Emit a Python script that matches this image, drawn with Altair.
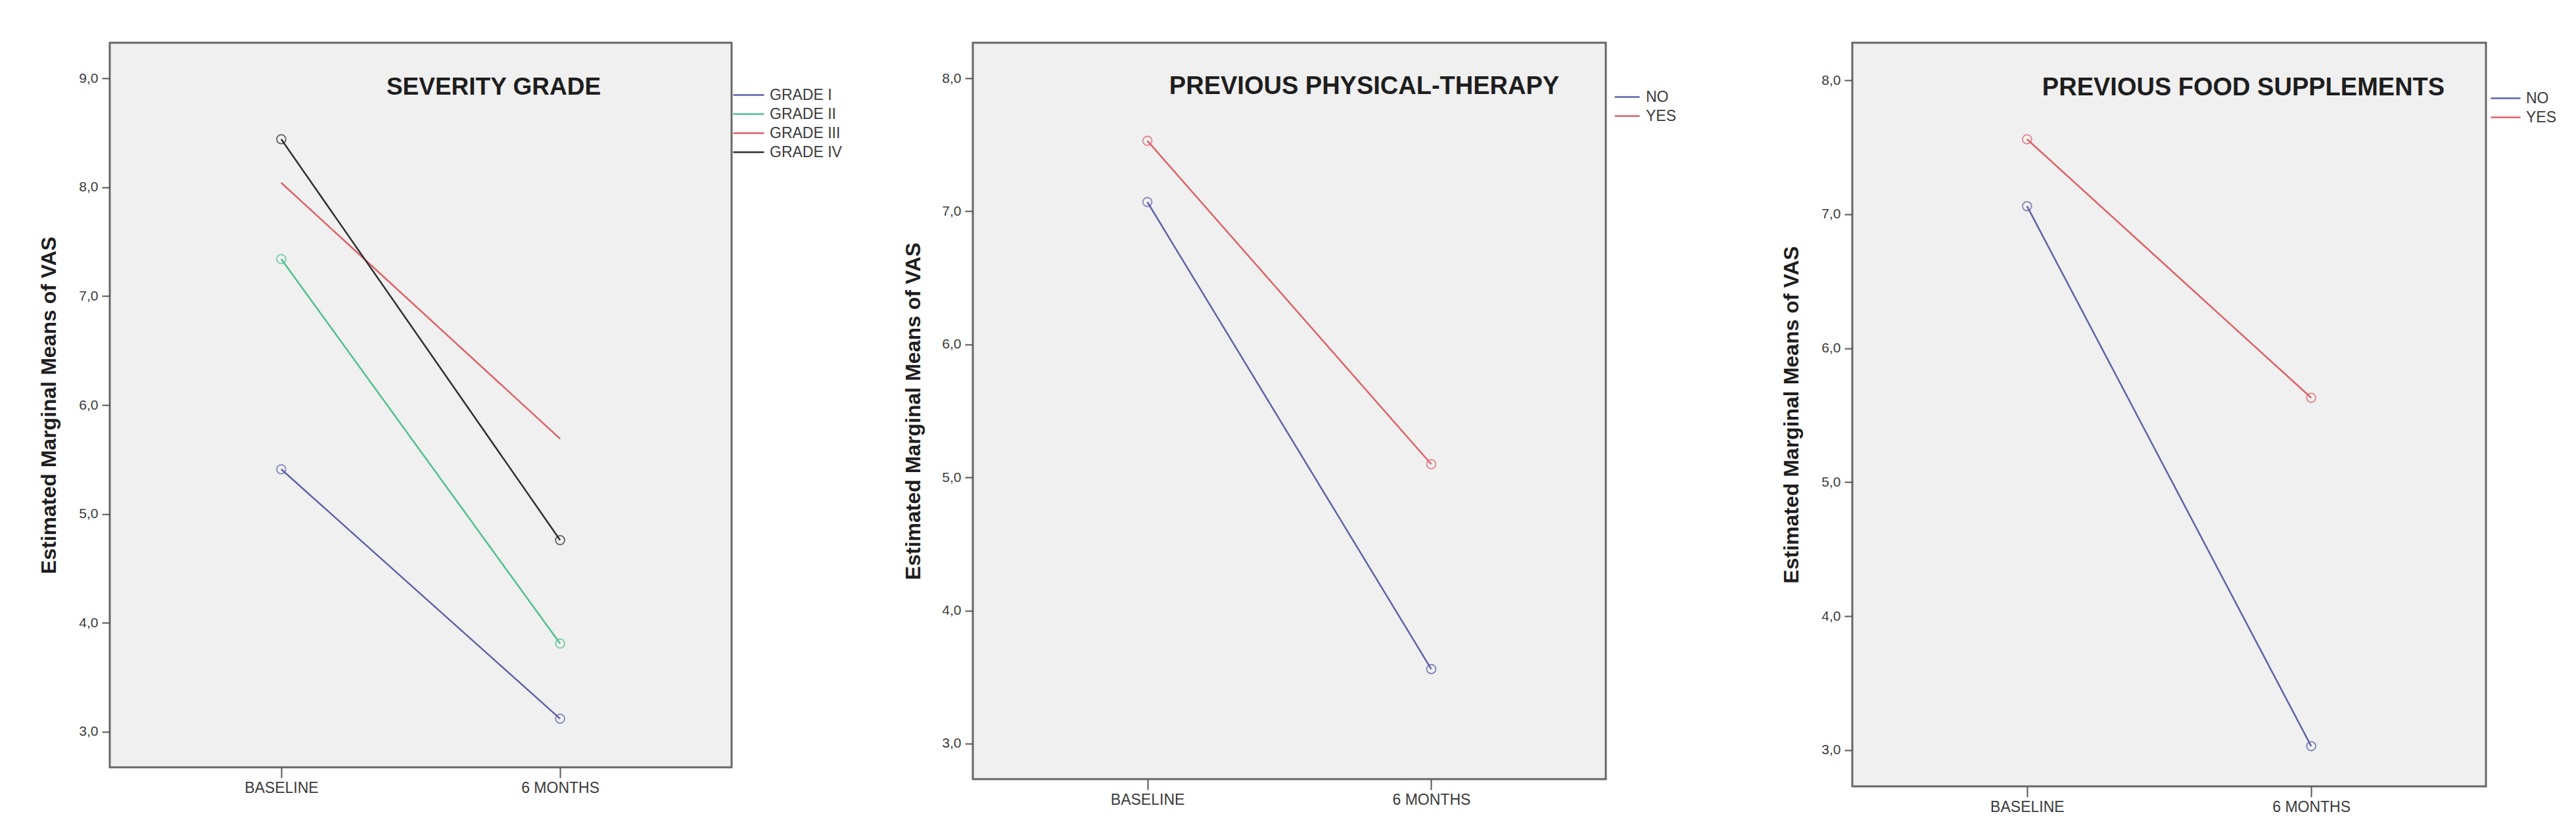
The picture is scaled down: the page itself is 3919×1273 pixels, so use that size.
import altair as alt
import pandas as pd

# ---- data ----
time_points = ["BASELINE", "6 MONTHS"]

severity_groups = ["GRADE I", "GRADE II", "GRADE III", "GRADE IV"]
severity_baseline = [5.41, 7.34, 8.04, 8.44]
severity_6months = [3.12, 3.81, 5.69, 4.76]

therapy_groups = ["NO", "YES"]
therapy_baseline = [7.07, 7.53]
therapy_6months = [3.56, 5.10]

supplement_groups = ["NO", "YES"]
supplement_baseline = [7.06, 7.56]
supplement_6months = [3.03, 5.63]

severity_ticks = [3, 4, 5, 6, 7, 8, 9]
other_ticks = [3, 4, 5, 6, 7, 8]

severity_colors = ["#5d62a8", "#4fc08c", "#dd6168", "#2e2e2e"]
yesno_colors = ["#5d62a8", "#dd6168"]

FONT = "Liberation Sans"
Y_TITLE = "Estimated Marginal Means of VAS"
LEG_ROW = 30  # nominal legend symbol size (row pitch)


def long_table(groups, base, six):
    rows = []
    for g, b, s in zip(groups, base, six):
        rows.append({"group": g, "time": time_points[0], "vas": b})
        rows.append({"group": g, "time": time_points[1], "vas": s})
    return pd.DataFrame(rows)


def panel(df, groups, colors, title, title_size, w, h, ydom, yticks, title_dx, title_dy,
          ytitle_x, leg_x, leg_y, sym_len, label_gap, hide_markers=()):
    k = sym_len / LEG_ROW
    half_over = (sym_len - LEG_ROW) / 2
    x = alt.X("time:N", sort=time_points,
              scale=alt.Scale(type="point", padding=0.615),
              axis=alt.Axis(title=None, labelAngle=0, domain=False, grid=False,
                            tickSize=16, tickWidth=2, tickColor="#555555",
                            labelFontSize=23, labelColor="#3a3a3a",
                            labelFont=FONT, labelPadding=4))
    y = alt.Y("vas:Q",
              scale=alt.Scale(domain=ydom, nice=False, zero=False),
              axis=alt.Axis(values=yticks, domain=False, grid=False,
                            labelExpr="replace(format(datum.value, '.1f'), '.', ',')",
                            tickSize=12, tickWidth=2, tickColor="#555555",
                            labelFontSize=21, labelColor="#3a3a3a",
                            labelFont=FONT, labelPadding=6,
                            title=Y_TITLE, titleFont=FONT, titleFontSize=32,
                            titleFontWeight="bold", titleColor="#1e1e1e",
                            titleX=ytitle_x, titleY=h / 2, titleAngle=270,
                            titleAlign="center", titleBaseline="middle"))
    color = alt.Color("group:N", sort=groups,
                      scale=alt.Scale(domain=groups, range=colors),
                      legend=alt.Legend(orient="none",
                                        legendX=leg_x + half_over, legendY=leg_y,
                                        title=None,
                                        symbolType=f"M-{k:.3f},0H{k:.3f}",
                                        symbolSize=LEG_ROW * LEG_ROW,
                                        symbolStrokeWidth=2.5,
                                        labelFont=FONT, labelFontSize=23,
                                        labelColor="#3a3a3a",
                                        labelOffset=half_over + label_gap,
                                        rowPadding=0))
    lines = alt.Chart(df).mark_line(strokeWidth=2.5).encode(x=x, y=y, color=color)
    pts_df = df[~df["group"].isin(list(hide_markers))]
    points = alt.Chart(pts_df).mark_point(shape="circle", filled=False, size=190,
                                          strokeWidth=1.8, opacity=0.75).encode(
        x=x, y=y,
        stroke=alt.Stroke("group:N", scale=alt.Scale(domain=groups, range=colors),
                          legend=None))
    return alt.layer(lines, points).properties(
        width=w, height=h,
        title=alt.TitleParams(text=title, orient="top", anchor="middle", frame="group",
                              offset=0, dx=title_dx, dy=title_dy, baseline="middle",
                              font=FONT, fontSize=title_size, fontWeight="bold",
                              color="#1e1e1e")
    ).resolve_scale(color="independent", stroke="independent")


p1 = panel(long_table(severity_groups, severity_baseline, severity_6months),
           severity_groups, severity_colors, "SEVERITY GRADE", 37,
           946, 1102, [2.674, 9.326], severity_ticks, 111, 105, -93,
           947, 63, 47, 7, hide_markers=["GRADE III"])
p2 = panel(long_table(therapy_groups, therapy_baseline, therapy_6months),
           therapy_groups, yesno_colors, "PREVIOUS PHYSICAL-THERAPY", 38,
           963, 1120, [2.733, 8.267], other_ticks, 114, 105, -91,
           975, 66, 38, 8)
p3 = panel(long_table(supplement_groups, supplement_baseline, supplement_6months),
           supplement_groups, yesno_colors, "PREVIOUS FOOD SUPPLEMENTS", 38,
           964, 1131, [2.73, 8.28], other_ticks, 113, 107, -93,
           970, 68, 45, 7)

inner = alt.hconcat(p2, p3, spacing=375, bounds="flush")
chart = alt.hconcat(p1, inner, spacing=367, bounds="flush").properties(
    padding={"left": 48, "top": 55, "right": 10, "bottom": 10},
    background="white",
).configure_view(stroke="#666666", strokeWidth=3, fill="#f0f0f0")

chart.save("out.html", embed_options={"renderer": "svg", "actions": False})
